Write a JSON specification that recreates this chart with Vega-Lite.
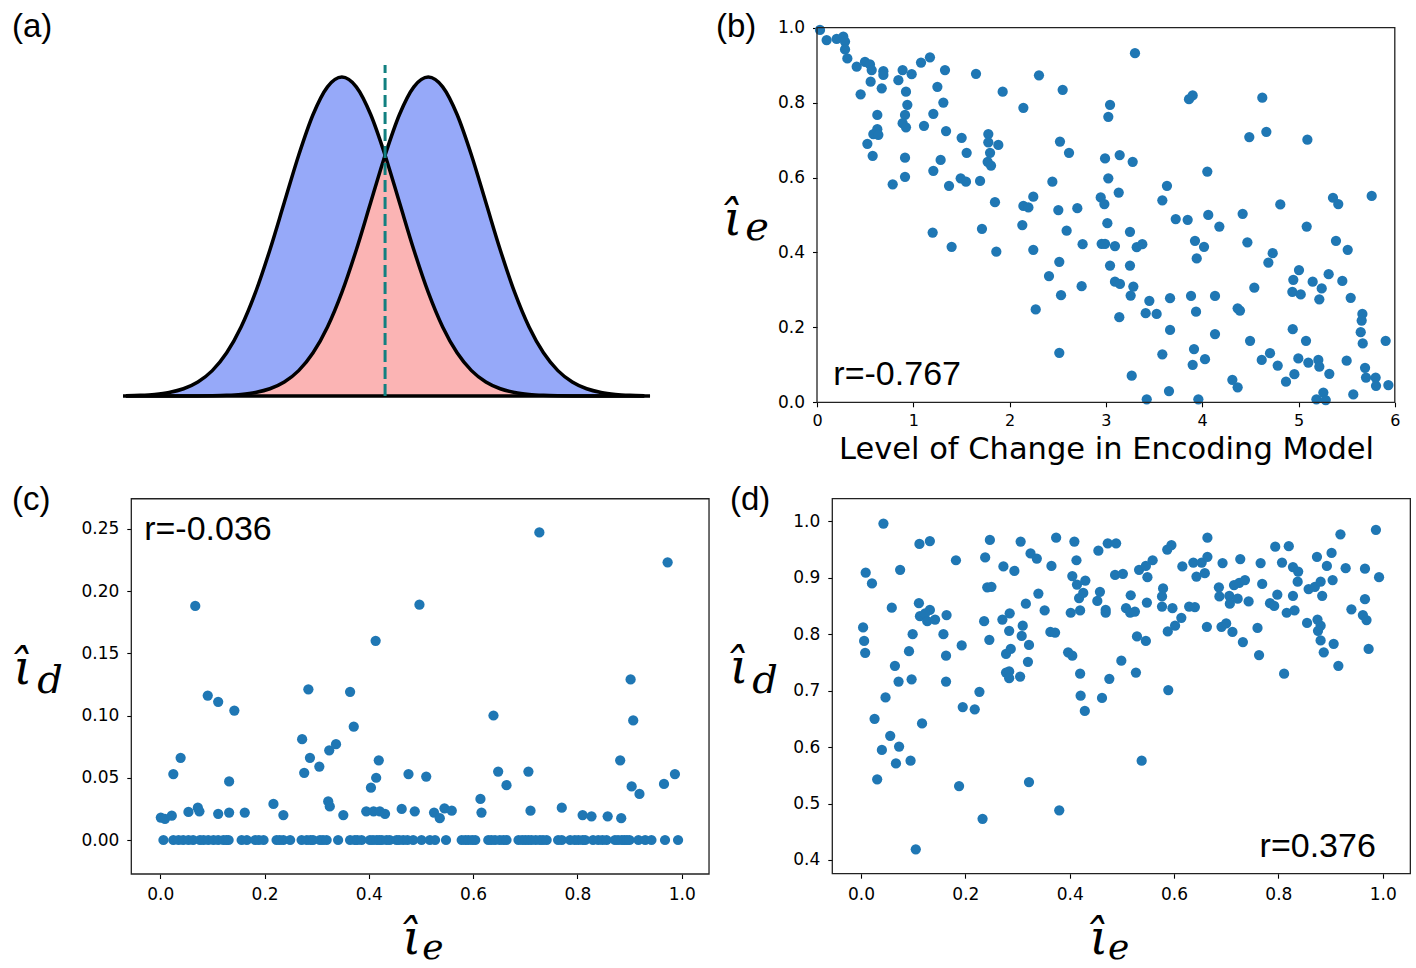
{
  "$schema": "https://vega.github.io/schema/vega-lite/v6.json",
  "background": "white",
  "padding": 0,
  "autosize": {"type": "none"},
  "width": 1416,
  "height": 968,
  "config": {
    "view": {"stroke": null},
    "axis": {"grid": false, "domain": false, "tickColor": "#000", "tickSize": 4.5, "tickWidth": 1.1, "labelFont": "DejaVu Sans", "labelFontSize": 17, "labelColor": "#000", "labelPadding": 8}
  },
  "datasets": {
    "a": [
      {"x": -4.5, "g1": 0.00088, "g2": 0, "lo": 0},
      {"x": -4.25, "g1": 0.00219, "g2": 0, "lo": 0},
      {"x": -4.0, "g1": 0.00508, "g2": 0.00001, "lo": 0.00001},
      {"x": -3.75, "g1": 0.01111, "g2": 0.00004, "lo": 0.00004},
      {"x": -3.5, "g1": 0.0228, "g2": 0.00012, "lo": 0.00012},
      {"x": -3.25, "g1": 0.04394, "g2": 0.00034, "lo": 0.00034},
      {"x": -3.0, "g1": 0.07956, "g2": 0.00088, "lo": 0.00088},
      {"x": -2.75, "g1": 0.13534, "g2": 0.00219, "lo": 0.00219},
      {"x": -2.5, "g1": 0.21627, "g2": 0.00508, "lo": 0.00508},
      {"x": -2.25, "g1": 0.32465, "g2": 0.01111, "lo": 0.01111},
      {"x": -2.0, "g1": 0.45783, "g2": 0.0228, "lo": 0.0228},
      {"x": -1.75, "g1": 0.60653, "g2": 0.04394, "lo": 0.04394},
      {"x": -1.5, "g1": 0.75484, "g2": 0.07956, "lo": 0.07956},
      {"x": -1.25, "g1": 0.8825, "g2": 0.13534, "lo": 0.13534},
      {"x": -1.0, "g1": 0.96923, "g2": 0.21627, "lo": 0.21627},
      {"x": -0.75, "g1": 1, "g2": 0.32465, "lo": 0.32465},
      {"x": -0.5, "g1": 0.96923, "g2": 0.45783, "lo": 0.45783},
      {"x": -0.25, "g1": 0.8825, "g2": 0.60653, "lo": 0.60653},
      {"x": 0, "g1": 0.75484, "g2": 0.75484, "lo": 0.75484},
      {"x": 0.25, "g1": 0.60653, "g2": 0.8825, "lo": 0.60653},
      {"x": 0.5, "g1": 0.45783, "g2": 0.96923, "lo": 0.45783},
      {"x": 0.75, "g1": 0.32465, "g2": 1, "lo": 0.32465},
      {"x": 1.0, "g1": 0.21627, "g2": 0.96923, "lo": 0.21627},
      {"x": 1.25, "g1": 0.13534, "g2": 0.8825, "lo": 0.13534},
      {"x": 1.5, "g1": 0.07956, "g2": 0.75484, "lo": 0.07956},
      {"x": 1.75, "g1": 0.04394, "g2": 0.60653, "lo": 0.04394},
      {"x": 2.0, "g1": 0.0228, "g2": 0.45783, "lo": 0.0228},
      {"x": 2.25, "g1": 0.01111, "g2": 0.32465, "lo": 0.01111},
      {"x": 2.5, "g1": 0.00508, "g2": 0.21627, "lo": 0.00508},
      {"x": 2.75, "g1": 0.00219, "g2": 0.13534, "lo": 0.00219},
      {"x": 3.0, "g1": 0.00088, "g2": 0.07956, "lo": 0.00088},
      {"x": 3.25, "g1": 0.00034, "g2": 0.04394, "lo": 0.00034},
      {"x": 3.5, "g1": 0.00012, "g2": 0.0228, "lo": 0.00012},
      {"x": 3.75, "g1": 0.00004, "g2": 0.01111, "lo": 0.00004},
      {"x": 4.0, "g1": 0.00001, "g2": 0.00508, "lo": 0.00001},
      {"x": 4.25, "g1": 0, "g2": 0.00219, "lo": 0},
      {"x": 4.5, "g1": 0, "g2": 0.00088, "lo": 0}
    ],
    "b": [
      {"x":0.031,"y":0.994},{"x":0.10,"y":0.967},{"x":0.204,"y":0.970},{"x":0.273,"y":0.976},{"x":0.291,"y":0.963},{"x":0.291,"y":0.942},{"x":0.315,"y":0.918},{"x":0.412,"y":0.896},{"x":0.498,"y":0.909},{"x":0.550,"y":0.902},{"x":0.568,"y":0.887},{"x":0.557,"y":0.856},{"x":0.453,"y":0.822},{"x":0.672,"y":0.838},{"x":0.689,"y":0.884},{"x":0.689,"y":0.874},{"x":0.845,"y":0.860},{"x":0.889,"y":0.887},{"x":0.983,"y":0.876},{"x":1.080,"y":0.907},{"x":1.173,"y":0.921},{"x":1.329,"y":0.887},{"x":1.25,"y":0.842},{"x":0.924,"y":0.829},{"x":0.938,"y":0.794},{"x":0.914,"y":0.767},{"x":0.889,"y":0.745},{"x":0.924,"y":0.734},{"x":0.626,"y":0.767},{"x":0.626,"y":0.729},{"x":0.585,"y":0.716},{"x":0.637,"y":0.714},{"x":0.523,"y":0.690},{"x":0.578,"y":0.658},{"x":0.786,"y":0.582},{"x":0.914,"y":0.653},{"x":0.914,"y":0.602},{"x":1.111,"y":0.738},{"x":1.208,"y":0.770},{"x":1.312,"y":0.800},{"x":1.340,"y":0.724},{"x":1.208,"y":0.618},{"x":1.284,"y":0.647},{"x":1.371,"y":0.578},{"x":1.502,"y":0.706},{"x":1.554,"y":0.666},{"x":1.492,"y":0.598},{"x":1.547,"y":0.589},{"x":1.693,"y":0.591},{"x":1.651,"y":0.877},{"x":1.928,"y":0.829},{"x":1.779,"y":0.716},{"x":1.779,"y":0.694},{"x":1.883,"y":0.687},{"x":1.797,"y":0.666},{"x":1.772,"y":0.642},{"x":1.807,"y":0.632},{"x":1.848,"y":0.534},{"x":2.143,"y":0.786},{"x":2.305,"y":0.873},{"x":2.551,"y":0.834},{"x":2.523,"y":0.696},{"x":2.617,"y":0.666},{"x":2.444,"y":0.589},{"x":2.246,"y":0.549},{"x":2.143,"y":0.524},{"x":2.195,"y":0.520},{"x":2.506,"y":0.513},{"x":2.703,"y":0.518},{"x":2.946,"y":0.547},{"x":2.984,"y":0.529},{"x":3.043,"y":0.794},{"x":3.025,"y":0.762},{"x":2.991,"y":0.651},{"x":3.025,"y":0.598},
      {"x":3.302,"y":0.932},{"x":3.863,"y":0.809},{"x":3.901,"y":0.819},{"x":4.624,"y":0.813},{"x":4.489,"y":0.708},{"x":4.666,"y":0.722},{"x":5.092,"y":0.701},{"x":3.143,"y":0.660},{"x":3.278,"y":0.642},{"x":3.634,"y":0.578},{"x":3.133,"y":0.560},{"x":3.586,"y":0.539},{"x":4.053,"y":0.616},{"x":4.811,"y":0.528},{"x":5.358,"y":0.546},{"x":5.413,"y":0.529},{"x":5.760,"y":0.551},
      {"x":1.201,"y":0.453},{"x":1.398,"y":0.415},{"x":1.713,"y":0.463},{"x":1.862,"y":0.402},{"x":2.132,"y":0.473},{"x":2.246,"y":0.407},{"x":2.592,"y":0.458},{"x":2.758,"y":0.422},{"x":3.015,"y":0.478},{"x":2.409,"y":0.337},{"x":2.516,"y":0.375},{"x":2.534,"y":0.286},{"x":2.748,"y":0.310},{"x":2.271,"y":0.248},{"x":2.516,"y":0.132},{"x":3.043,"y":0.365},
      {"x":3.250,"y":0.455},{"x":3.725,"y":0.489},{"x":3.849,"y":0.487},{"x":4.063,"y":0.500},{"x":4.178,"y":0.469},{"x":4.420,"y":0.503},{"x":5.085,"y":0.469},{"x":2.956,"y":0.423},{"x":2.991,"y":0.423},{"x":3.094,"y":0.417},{"x":3.320,"y":0.414},{"x":3.378,"y":0.422},{"x":3.925,"y":0.431},{"x":4.019,"y":0.415},{"x":3.943,"y":0.384},{"x":4.469,"y":0.427},{"x":5.389,"y":0.431},{"x":5.511,"y":0.407},{"x":4.732,"y":0.398},{"x":4.687,"y":0.373},{"x":3.250,"y":0.365},{"x":5.005,"y":0.353},{"x":4.946,"y":0.327},{"x":5.147,"y":0.322},{"x":5.313,"y":0.342},{"x":5.455,"y":0.324},{"x":5.241,"y":0.304},{"x":5.216,"y":0.275},{"x":4.936,"y":0.295},{"x":5.023,"y":0.288},{"x":5.542,"y":0.279},{"x":4.541,"y":0.306},{"x":3.094,"y":0.322},{"x":3.146,"y":0.316},{"x":3.285,"y":0.309},{"x":3.257,"y":0.285},{"x":3.451,"y":0.271},{"x":3.413,"y":0.238},{"x":3.527,"y":0.236},{"x":3.666,"y":0.278},{"x":3.884,"y":0.284},{"x":3.936,"y":0.242},{"x":4.133,"y":0.284},{"x":4.368,"y":0.251},{"x":4.392,"y":0.245},{"x":3.139,"y":0.227},{"x":3.666,"y":0.193},{"x":4.133,"y":0.182},{"x":3.915,"y":0.142},{"x":3.901,"y":0.100},{"x":4.029,"y":0.115},{"x":3.586,"y":0.128},{"x":3.268,"y":0.071},{"x":3.655,"y":0.030},{"x":3.424,"y":0.008},{"x":3.960,"y":0.008},{"x":4.313,"y":0.060},{"x":4.368,"y":0.040},{"x":4.497,"y":0.164},{"x":4.618,"y":0.113},{"x":4.704,"y":0.131},{"x":4.784,"y":0.098},{"x":4.870,"y":0.055},{"x":4.957,"y":0.075},{"x":4.940,"y":0.195},{"x":5.078,"y":0.164},{"x":4.998,"y":0.117},{"x":5.102,"y":0.106},{"x":5.206,"y":0.113},{"x":5.216,"y":0.095},{"x":5.320,"y":0.076},{"x":5.258,"y":0.026},{"x":5.186,"y":0.008},{"x":5.283,"y":0.006},{"x":5.500,"y":0.111},{"x":5.569,"y":0.021},{"x":5.663,"y":0.236},{"x":5.656,"y":0.218},{"x":5.646,"y":0.187},{"x":5.667,"y":0.157},{"x":5.691,"y":0.092},{"x":5.701,"y":0.066},{"x":5.801,"y":0.066},{"x":5.805,"y":0.044},{"x":5.905,"y":0.164},{"x":5.933,"y":0.046}
    ],
    "c": [
      {"x":0.006,"y":0},{"x":0.025,"y":0},{"x":0.035,"y":0},{"x":0.044,"y":0},{"x":0.054,"y":0},{"x":0.063,"y":0},{"x":0.076,"y":0},{"x":0.083,"y":0},{"x":0.092,"y":0},{"x":0.102,"y":0},{"x":0.111,"y":0},{"x":0.121,"y":0},{"x":0.127,"y":0},{"x":0.131,"y":0},{"x":0.156,"y":0},{"x":0.166,"y":0},{"x":0.182,"y":0},{"x":0.189,"y":0},{"x":0.198,"y":0},{"x":0.223,"y":0},{"x":0.229,"y":0},{"x":0.236,"y":0},{"x":0.249,"y":0},{"x":0.271,"y":0},{"x":0.281,"y":0},{"x":0.288,"y":0},{"x":0.293,"y":0},{"x":0.306,"y":0},{"x":0.312,"y":0},{"x":0.319,"y":0},{"x":0.341,"y":0},{"x":0.364,"y":0},{"x":0.373,"y":0},{"x":0.378,"y":0},{"x":0.386,"y":0},{"x":0.402,"y":0},{"x":0.408,"y":0},{"x":0.415,"y":0},{"x":0.420,"y":0},{"x":0.425,"y":0},{"x":0.434,"y":0},{"x":0.440,"y":0},{"x":0.453,"y":0},{"x":0.458,"y":0},{"x":0.466,"y":0},{"x":0.474,"y":0},{"x":0.485,"y":0},{"x":0.501,"y":0},{"x":0.517,"y":0},{"x":0.527,"y":0},{"x":0.548,"y":0},{"x":0.578,"y":0},{"x":0.585,"y":0},{"x":0.591,"y":0},{"x":0.598,"y":0},{"x":0.604,"y":0},{"x":0.629,"y":0},{"x":0.635,"y":0},{"x":0.642,"y":0},{"x":0.651,"y":0},{"x":0.658,"y":0},{"x":0.664,"y":0},{"x":0.687,"y":0},{"x":0.694,"y":0},{"x":0.700,"y":0},{"x":0.706,"y":0},{"x":0.712,"y":0},{"x":0.720,"y":0},{"x":0.728,"y":0},{"x":0.734,"y":0},{"x":0.741,"y":0},{"x":0.763,"y":0},{"x":0.770,"y":0},{"x":0.786,"y":0},{"x":0.795,"y":0},{"x":0.802,"y":0},{"x":0.810,"y":0},{"x":0.815,"y":0},{"x":0.830,"y":0},{"x":0.840,"y":0},{"x":0.848,"y":0},{"x":0.856,"y":0},{"x":0.872,"y":0},{"x":0.878,"y":0},{"x":0.885,"y":0},{"x":0.890,"y":0},{"x":0.895,"y":0},{"x":0.900,"y":0},{"x":0.917,"y":0},{"x":0.930,"y":0},{"x":0.942,"y":0},{"x":0.968,"y":0},{"x":0.993,"y":0},
      {"x":0.067,"y":0.188},{"x":0.091,"y":0.116},{"x":0.111,"y":0.111},{"x":0.142,"y":0.104},{"x":0.039,"y":0.066},{"x":0.025,"y":0.053},{"x":0.132,"y":0.047},{"x":0.001,"y":0.018},{"x":0.009,"y":0.017},{"x":0.022,"y":0.0195},{"x":0.054,"y":0.0225},{"x":0.072,"y":0.026},{"x":0.075,"y":0.023},{"x":0.111,"y":0.021},{"x":0.132,"y":0.022},{"x":0.162,"y":0.022},{"x":0.217,"y":0.029},{"x":0.236,"y":0.020},{"x":0.284,"y":0.121},{"x":0.272,"y":0.081},{"x":0.287,"y":0.066},{"x":0.276,"y":0.054},{"x":0.305,"y":0.059},{"x":0.324,"y":0.072},{"x":0.337,"y":0.077},{"x":0.322,"y":0.031},{"x":0.325,"y":0.027},{"x":0.351,"y":0.020},{"x":0.364,"y":0.119},{"x":0.371,"y":0.091},{"x":0.413,"y":0.160},{"x":0.419,"y":0.064},{"x":0.414,"y":0.050},{"x":0.404,"y":0.042},{"x":0.395,"y":0.023},{"x":0.409,"y":0.023},{"x":0.421,"y":0.023},{"x":0.431,"y":0.021},{"x":0.463,"y":0.025},{"x":0.476,"y":0.053},{"x":0.488,"y":0.023},{"x":0.497,"y":0.189},{"x":0.727,"y":0.247},{"x":0.973,"y":0.223},{"x":0.902,"y":0.129},{"x":0.639,"y":0.100},{"x":0.907,"y":0.096},{"x":0.882,"y":0.064},{"x":0.648,"y":0.055},{"x":0.706,"y":0.055},{"x":0.510,"y":0.051},{"x":0.664,"y":0.044},{"x":0.987,"y":0.053},{"x":0.966,"y":0.045},{"x":0.904,"y":0.043},{"x":0.919,"y":0.037},{"x":0.614,"y":0.033},{"x":0.616,"y":0.022},{"x":0.525,"y":0.022},{"x":0.536,"y":0.0175},{"x":0.545,"y":0.0255},{"x":0.559,"y":0.0235},{"x":0.710,"y":0.0235},{"x":0.770,"y":0.026},{"x":0.810,"y":0.020},{"x":0.827,"y":0.019},{"x":0.858,"y":0.019},{"x":0.884,"y":0.0175}
    ],
    "d": [
      {"x":0.043,"y":0.996},{"x":0.009,"y":0.909},{"x":0.021,"y":0.890},{"x":0.075,"y":0.914},{"x":0.112,"y":0.960},{"x":0.132,"y":0.965},{"x":0.182,"y":0.931},{"x":0.004,"y":0.812},{"x":0.006,"y":0.788},{"x":0.008,"y":0.767},{"x":0.059,"y":0.847},{"x":0.111,"y":0.855},{"x":0.132,"y":0.843},{"x":0.113,"y":0.832},{"x":0.123,"y":0.837},{"x":0.127,"y":0.823},{"x":0.142,"y":0.826},{"x":0.164,"y":0.834},{"x":0.099,"y":0.800},{"x":0.158,"y":0.800},{"x":0.092,"y":0.770},{"x":0.163,"y":0.762},{"x":0.065,"y":0.744},{"x":0.072,"y":0.716},{"x":0.097,"y":0.720},{"x":0.163,"y":0.716},{"x":0.193,"y":0.780},{"x":0.227,"y":0.698},{"x":0.195,"y":0.671},{"x":0.218,"y":0.667},{"x":0.047,"y":0.688},{"x":0.026,"y":0.650},{"x":0.117,"y":0.642},{"x":0.238,"y":0.936},{"x":0.247,"y":0.967},{"x":0.273,"y":0.920},{"x":0.294,"y":0.912},{"x":0.306,"y":0.964},{"x":0.325,"y":0.943},{"x":0.337,"y":0.934},{"x":0.365,"y":0.921},{"x":0.374,"y":0.971},{"x":0.242,"y":0.883},{"x":0.250,"y":0.884},{"x":0.340,"y":0.872},{"x":0.316,"y":0.854},{"x":0.352,"y":0.842},{"x":0.236,"y":0.823},{"x":0.271,"y":0.826},{"x":0.285,"y":0.837},{"x":0.284,"y":0.806},{"x":0.310,"y":0.815},{"x":0.308,"y":0.797},{"x":0.246,"y":0.790},{"x":0.322,"y":0.781},{"x":0.278,"y":0.765},{"x":0.287,"y":0.774},{"x":0.320,"y":0.751},{"x":0.278,"y":0.732},{"x":0.284,"y":0.734},{"x":0.284,"y":0.722},{"x":0.305,"y":0.725},{"x":0.363,"y":0.804},{"x":0.372,"y":0.803},
      {"x":0.056,"y":0.620},{"x":0.040,"y":0.595},{"x":0.073,"y":0.601},{"x":0.067,"y":0.571},{"x":0.095,"y":0.576},{"x":0.031,"y":0.543},{"x":0.188,"y":0.531},{"x":0.322,"y":0.538},{"x":0.233,"y":0.473},{"x":0.105,"y":0.419},{"x":0.380,"y":0.488},{"x":0.538,"y":0.576},
      {"x":0.409,"y":0.964},{"x":0.413,"y":0.931},{"x":0.405,"y":0.903},{"x":0.414,"y":0.888},{"x":0.430,"y":0.895},{"x":0.418,"y":0.864},{"x":0.426,"y":0.873},{"x":0.402,"y":0.838},{"x":0.420,"y":0.842},{"x":0.455,"y":0.948},{"x":0.473,"y":0.961},{"x":0.489,"y":0.961},{"x":0.453,"y":0.859},{"x":0.458,"y":0.875},{"x":0.469,"y":0.843},{"x":0.469,"y":0.838},{"x":0.487,"y":0.905},{"x":0.502,"y":0.907},{"x":0.517,"y":0.869},{"x":0.508,"y":0.846},{"x":0.516,"y":0.838},{"x":0.525,"y":0.840},{"x":0.548,"y":0.856},{"x":0.533,"y":0.914},{"x":0.546,"y":0.921},{"x":0.559,"y":0.931},{"x":0.549,"y":0.901},{"x":0.587,"y":0.950},{"x":0.595,"y":0.958},{"x":0.579,"y":0.881},{"x":0.577,"y":0.867},{"x":0.577,"y":0.849},{"x":0.597,"y":0.846},{"x":0.614,"y":0.829},{"x":0.602,"y":0.815},{"x":0.588,"y":0.805},{"x":0.616,"y":0.920},{"x":0.637,"y":0.927},{"x":0.653,"y":0.927},{"x":0.664,"y":0.971},{"x":0.664,"y":0.937},{"x":0.643,"y":0.902},{"x":0.659,"y":0.908},{"x":0.629,"y":0.849},{"x":0.640,"y":0.848},{"x":0.663,"y":0.813},{"x":0.693,"y":0.926},{"x":0.686,"y":0.883},{"x":0.687,"y":0.867},{"x":0.706,"y":0.868},{"x":0.707,"y":0.854},{"x":0.722,"y":0.863},{"x":0.691,"y":0.813},{"x":0.700,"y":0.819},{"x":0.712,"y":0.804},{"x":0.715,"y":0.887},{"x":0.725,"y":0.891},{"x":0.736,"y":0.896},{"x":0.727,"y":0.933},{"x":0.766,"y":0.926},{"x":0.769,"y":0.889},{"x":0.743,"y":0.858},{"x":0.732,"y":0.786},{"x":0.760,"y":0.811},{"x":0.763,"y":0.763},{"x":0.784,"y":0.855},{"x":0.792,"y":0.850},{"x":0.798,"y":0.870},{"x":0.794,"y":0.955},{"x":0.820,"y":0.956},{"x":0.807,"y":0.927},{"x":0.828,"y":0.919},{"x":0.838,"y":0.911},{"x":0.837,"y":0.893},{"x":0.828,"y":0.868},{"x":0.816,"y":0.838},{"x":0.831,"y":0.842},{"x":0.811,"y":0.730},{"x":0.855,"y":0.820},{"x":0.858,"y":0.880},{"x":0.870,"y":0.884},{"x":0.881,"y":0.893},{"x":0.874,"y":0.937},{"x":0.893,"y":0.921},{"x":0.902,"y":0.944},{"x":0.904,"y":0.896},{"x":0.884,"y":0.868},{"x":0.875,"y":0.826},{"x":0.881,"y":0.815},{"x":0.876,"y":0.806},{"x":0.881,"y":0.789},{"x":0.887,"y":0.768},{"x":0.906,"y":0.783},{"x":0.915,"y":0.744},{"x":0.919,"y":0.977},{"x":0.929,"y":0.917},{"x":0.940,"y":0.844},{"x":0.966,"y":0.916},{"x":0.966,"y":0.862},{"x":0.962,"y":0.834},{"x":0.969,"y":0.825},{"x":0.973,"y":0.774},{"x":0.987,"y":0.985},{"x":0.993,"y":0.901},{"x":0.397,"y":0.768},{"x":0.405,"y":0.762},{"x":0.420,"y":0.730},{"x":0.421,"y":0.691},{"x":0.462,"y":0.687},{"x":0.429,"y":0.664},{"x":0.476,"y":0.721},{"x":0.499,"y":0.753},{"x":0.527,"y":0.732},{"x":0.529,"y":0.796},{"x":0.546,"y":0.788},{"x":0.589,"y":0.701}
    ]
  },
  "resolve": {"scale": {"x": "independent", "y": "independent"}, "axis": {"x": "independent", "y": "independent"}},
  "layer": [
    {
      "layer": [
        {"data": {"name": "a"}, "mark": {"type": "area", "interpolate": "monotone", "color": "#96a9f9", "opacity": 1},
         "encoding": {"x": {"field": "x", "type": "quantitative", "scale": {"domain": [-6.6854, 17.898], "nice": false, "zero": false}, "axis": null},
                      "y": {"field": "g1", "type": "quantitative", "scale": {"domain": [-1.7931, 1.2414], "nice": false, "zero": false}, "axis": null},
                      "y2": {"datum": 0}}},
        {"data": {"name": "a"}, "mark": {"type": "area", "interpolate": "monotone", "color": "#96a9f9", "opacity": 1},
         "encoding": {"x": {"field": "x", "type": "quantitative", "axis": null}, "y": {"field": "g2", "type": "quantitative", "axis": null}, "y2": {"datum": 0}}},
        {"data": {"name": "a"}, "mark": {"type": "area", "interpolate": "linear", "color": "#fbb4b4", "opacity": 1},
         "encoding": {"x": {"field": "x", "type": "quantitative", "axis": null}, "y": {"field": "lo", "type": "quantitative", "axis": null}, "y2": {"datum": 0}}},
        {"data": {"name": "a"}, "mark": {"type": "line", "interpolate": "monotone", "color": "#000", "strokeWidth": 3.5},
         "encoding": {"x": {"field": "x", "type": "quantitative", "axis": null}, "y": {"field": "g1", "type": "quantitative", "axis": null}}},
        {"data": {"name": "a"}, "mark": {"type": "line", "interpolate": "monotone", "color": "#000", "strokeWidth": 3.5},
         "encoding": {"x": {"field": "x", "type": "quantitative", "axis": null}, "y": {"field": "g2", "type": "quantitative", "axis": null}}},
        {"data": {"values": [{"k": "base"}]}, "mark": {"type": "rule", "color": "#000", "strokeWidth": 3.5},
         "encoding": {"x": {"datum": -4.55, "type": "quantitative", "axis": null}, "x2": {"datum": 4.6}, "y": {"datum": 0, "type": "quantitative", "axis": null}}},
        {"data": {"values": [{"k": "mid"}]}, "mark": {"type": "rule", "color": "#118080", "strokeWidth": 3, "strokeDash": [12, 5]},
         "encoding": {"x": {"datum": 0, "type": "quantitative", "axis": null}, "y": {"datum": 0, "type": "quantitative", "axis": null}, "y2": {"datum": 1.0377}}},
        {"data": {"values": [{"t": "(a)"}]}, "mark": {"type": "text", "font": "Liberation Sans", "fontSize": 33, "align": "left", "baseline": "alphabetic", "color": "#000"},
         "encoding": {"x": {"datum": -6.477, "type": "quantitative", "axis": null}, "y": {"datum": 1.1254, "type": "quantitative", "axis": null}, "text": {"field": "t"}}}
      ]
    },
    {
      "layer": [
        {"data": {"name": "b"}, "mark": {"type": "point", "filled": true, "size": 105, "color": "#1f77b4", "opacity": 1},
         "encoding": {
           "x": {"field": "x", "type": "quantitative", "scale": {"domain": [-8.4839, 6.2201], "nice": false, "zero": false},
                 "axis": {"orient": "bottom", "offset": -565.7, "values": [0, 1, 2, 3, 4, 5, 6], "format": "d", "labelFontSize": 16, "labelPadding": 6, "title": "Level of Change in Encoding Model", "titleFont": "DejaVu Sans", "titleFontSize": 30.5, "titleFontWeight": "normal", "titleColor": "#000", "titleBaseline": "alphabetic", "titleAlign": "center", "titleX": 1106, "titleY": 56}},
           "y": {"field": "y", "type": "quantitative", "scale": {"domain": [-1.5102, 1.0739], "nice": false, "zero": false},
                 "axis": {"orient": "left", "offset": -817, "values": [0, 0.2, 0.4, 0.6, 0.8, 1.0], "format": ".1f", "title": null}}}},
        {"data": {"values": [{"k": "frame"}]}, "mark": {"type": "rect", "filled": false, "color": "#222", "strokeWidth": 1.3},
         "encoding": {"x": {"datum": 0, "type": "quantitative"}, "x2": {"datum": 6}, "y": {"datum": 0, "type": "quantitative"}, "y2": {"datum": 1}}},
        {"data": {"values": [{"t": "r=-0.767"}]}, "mark": {"type": "text", "font": "Liberation Sans", "fontSize": 34, "align": "left", "baseline": "alphabetic", "color": "#000"},
         "encoding": {"x": {"datum": 0.17, "type": "quantitative"}, "y": {"datum": 0.0462, "type": "quantitative"}, "text": {"field": "t"}}},
        {"data": {"values": [{"t": "(b)"}]}, "mark": {"type": "text", "font": "Liberation Sans", "fontSize": 33, "align": "left", "baseline": "alphabetic", "color": "#000"},
         "encoding": {"x": {"datum": -1.049, "type": "quantitative"}, "y": {"datum": 0.975, "type": "quantitative"}, "text": {"field": "t"}}},
        {"data": {"values": [{"t": "\u03b9\u0302"}]}, "mark": {"type": "text", "font": "DejaVu Serif", "fontStyle": "italic", "fontSize": 48, "align": "center", "baseline": "alphabetic", "color": "#000"},
         "encoding": {"x": {"datum": -0.872, "type": "quantitative"}, "y": {"datum": 0.4466, "type": "quantitative"}, "text": {"field": "t"}}},
        {"data": {"values": [{"t": "e"}]}, "mark": {"type": "text", "font": "DejaVu Serif", "fontStyle": "italic", "fontSize": 40, "align": "center", "baseline": "alphabetic", "color": "#000"},
         "encoding": {"x": {"datum": -0.623, "type": "quantitative"}, "y": {"datum": 0.433, "type": "quantitative"}, "text": {"field": "t"}}}
      ]
    },
    {
      "layer": [
        {"data": {"name": "c"}, "mark": {"type": "point", "filled": true, "size": 105, "color": "#1f77b4", "opacity": 1},
         "encoding": {
           "x": {"field": "x", "type": "quantitative", "scale": {"domain": [-0.30744, 2.40832], "nice": false, "zero": false},
                 "axis": {"orient": "bottom", "offset": -94, "values": [0, 0.2, 0.4, 0.6, 0.8, 1.0], "format": ".1f", "title": null}},
           "y": {"field": "y", "type": "quantitative", "scale": {"domain": [-0.10281, 0.6747], "nice": false, "zero": false},
                 "axis": {"orient": "left", "offset": -131.3, "values": [0, 0.05, 0.1, 0.15, 0.2, 0.25], "format": ".2f", "title": null}}}},
        {"data": {"values": [{"k": "frame"}]}, "mark": {"type": "rect", "filled": false, "color": "#222", "strokeWidth": 1.3},
         "encoding": {"x": {"datum": -0.0556, "type": "quantitative"}, "x2": {"datum": 1.0524}, "y": {"datum": -0.0273, "type": "quantitative"}, "y2": {"datum": 0.2741}}},
        {"data": {"values": [{"t": "r=-0.036"}]}, "mark": {"type": "text", "font": "Liberation Sans", "fontSize": 34, "align": "left", "baseline": "alphabetic", "color": "#000"},
         "encoding": {"x": {"datum": -0.031, "type": "quantitative"}, "y": {"datum": 0.241, "type": "quantitative"}, "text": {"field": "t"}}},
        {"data": {"values": [{"t": "(c)"}]}, "mark": {"type": "text", "font": "Liberation Sans", "fontSize": 33, "align": "left", "baseline": "alphabetic", "color": "#000"},
         "encoding": {"x": {"datum": -0.2844, "type": "quantitative"}, "y": {"datum": 0.265, "type": "quantitative"}, "text": {"field": "t"}}},
        {"data": {"values": [{"t": "\u03b9\u0302"}]}, "mark": {"type": "text", "font": "DejaVu Serif", "fontStyle": "italic", "fontSize": 48, "align": "center", "baseline": "alphabetic", "color": "#000"},
         "encoding": {"x": {"datum": -0.2633, "type": "quantitative"}, "y": {"datum": 0.1253, "type": "quantitative"}, "text": {"field": "t"}}},
        {"data": {"values": [{"t": "d"}]}, "mark": {"type": "text", "font": "DejaVu Serif", "fontStyle": "italic", "fontSize": 40, "align": "center", "baseline": "alphabetic", "color": "#000"},
         "encoding": {"x": {"datum": -0.2116, "type": "quantitative"}, "y": {"datum": 0.118, "type": "quantitative"}, "text": {"field": "t"}}},
        {"data": {"values": [{"t": "\u03b9\u0302"}]}, "mark": {"type": "text", "font": "DejaVu Serif", "fontStyle": "italic", "fontSize": 48, "align": "center", "baseline": "alphabetic", "color": "#000"},
         "encoding": {"x": {"datum": 0.4827, "type": "quantitative"}, "y": {"datum": -0.0916, "type": "quantitative"}, "text": {"field": "t"}}},
        {"data": {"values": [{"t": "e"}]}, "mark": {"type": "text", "font": "DejaVu Serif", "fontStyle": "italic", "fontSize": 36, "align": "center", "baseline": "alphabetic", "color": "#000"},
         "encoding": {"x": {"datum": 0.523, "type": "quantitative"}, "y": {"datum": -0.0956, "type": "quantitative"}, "text": {"field": "t"}}}
      ]
    },
    {
      "layer": [
        {"data": {"name": "d"}, "mark": {"type": "point", "filled": true, "size": 105, "color": "#1f77b4", "opacity": 1},
         "encoding": {
           "x": {"field": "x", "type": "quantitative", "scale": {"domain": [-1.65037, 1.06383], "nice": false, "zero": false},
                 "axis": {"orient": "bottom", "offset": -94.3, "values": [0, 0.2, 0.4, 0.6, 0.8, 1.0], "format": ".1f", "title": null}},
           "y": {"field": "y", "type": "quantitative", "scale": {"domain": [0.20868, 1.92347], "nice": false, "zero": false},
                 "axis": {"orient": "left", "offset": -832.3, "values": [0.4, 0.5, 0.6, 0.7, 0.8, 0.9, 1.0], "format": ".1f", "title": null}}}},
        {"data": {"values": [{"k": "frame"}]}, "mark": {"type": "rect", "filled": false, "color": "#222", "strokeWidth": 1.3},
         "encoding": {"x": {"datum": -0.055, "type": "quantitative"}, "x2": {"datum": 1.053}, "y": {"datum": 0.3757, "type": "quantitative"}, "y2": {"datum": 1.04}}},
        {"data": {"values": [{"t": "r=0.376"}]}, "mark": {"type": "text", "font": "Liberation Sans", "fontSize": 34, "align": "left", "baseline": "alphabetic", "color": "#000"},
         "encoding": {"x": {"datum": 0.764, "type": "quantitative"}, "y": {"datum": 0.405, "type": "quantitative"}, "text": {"field": "t"}}},
        {"data": {"values": [{"t": "(d)"}]}, "mark": {"type": "text", "font": "Liberation Sans", "fontSize": 33, "align": "left", "baseline": "alphabetic", "color": "#000"},
         "encoding": {"x": {"datum": -0.2511, "type": "quantitative"}, "y": {"datum": 1.02, "type": "quantitative"}, "text": {"field": "t"}}},
        {"data": {"values": [{"t": "\u03b9\u0302"}]}, "mark": {"type": "text", "font": "DejaVu Serif", "fontStyle": "italic", "fontSize": 48, "align": "center", "baseline": "alphabetic", "color": "#000"},
         "encoding": {"x": {"datum": -0.2337, "type": "quantitative"}, "y": {"datum": 0.7137, "type": "quantitative"}, "text": {"field": "t"}}},
        {"data": {"values": [{"t": "d"}]}, "mark": {"type": "text", "font": "DejaVu Serif", "fontStyle": "italic", "fontSize": 40, "align": "center", "baseline": "alphabetic", "color": "#000"},
         "encoding": {"x": {"datum": -0.184, "type": "quantitative"}, "y": {"datum": 0.696, "type": "quantitative"}, "text": {"field": "t"}}},
        {"data": {"values": [{"t": "\u03b9\u0302"}]}, "mark": {"type": "text", "font": "DejaVu Serif", "fontStyle": "italic", "fontSize": 48, "align": "center", "baseline": "alphabetic", "color": "#000"},
         "encoding": {"x": {"datum": 0.456, "type": "quantitative"}, "y": {"datum": 0.2335, "type": "quantitative"}, "text": {"field": "t"}}},
        {"data": {"values": [{"t": "e"}]}, "mark": {"type": "text", "font": "DejaVu Serif", "fontStyle": "italic", "fontSize": 36, "align": "center", "baseline": "alphabetic", "color": "#000"},
         "encoding": {"x": {"datum": 0.494, "type": "quantitative"}, "y": {"datum": 0.2246, "type": "quantitative"}, "text": {"field": "t"}}}
      ]
    }
  ]
}
